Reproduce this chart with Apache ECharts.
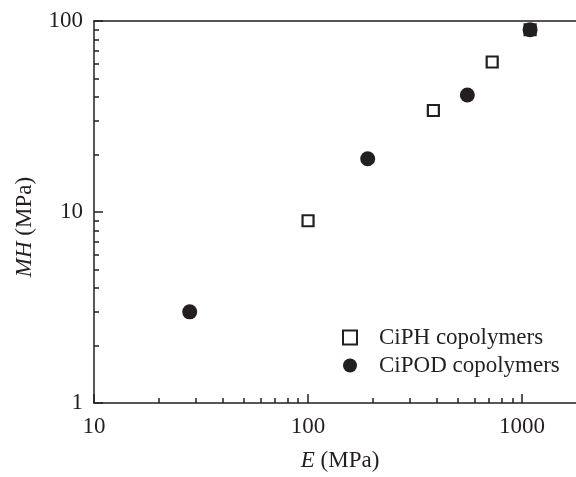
<!DOCTYPE html>
<html>
<head>
<meta charset="utf-8">
<script src="https://cdn.jsdelivr.net/npm/echarts@6/dist/echarts.min.js"></script>
<style>
  html, body { margin: 0; padding: 0; background: #fff; }
  #chart { width: 576px; height: 477px; }
</style>
</head>
<body>
<div id="chart"></div>
<script>
// Elastic modulus E (MPa) vs. microhardness MH (MPa)
const ciphE = [100, 385, 725, 1090];
const ciphMH = [9, 34, 61, 90];
const cipodE = [28, 190, 555, 1090];
const cipodMH = [3, 19, 41, 90];

const xMajorTicks = [10, 100, 1000];
const xMinorTicks = [20, 30, 40, 50, 60, 70, 80, 90, 200, 300, 400, 500, 600, 700, 800, 900];
const yMajorTicks = [1, 10, 100];
const yMinorTicks = [2, 3, 4, 5, 6, 7, 8, 9, 20, 30, 40, 50, 60, 70, 80, 90];

const ink = '#231f20';
const font = '"Liberation Serif", "Times New Roman", serif';
const fs = 23;

function pairs(xs, ys) { return xs.map((x, i) => [x, ys[i]]); }

const chart = echarts.init(document.getElementById('chart'));

// the x range runs a little past the right edge of the frame
const baseX = { type: 'log', logBase: 10, min: 10, max: 1786, gridIndex: 0, position: 'bottom', splitLine: { show: false } };
const baseY = { type: 'log', logBase: 10, min: 1, max: 100, gridIndex: 0, position: 'left', splitLine: { show: false } };

chart.setOption({
  animation: false,
  backgroundColor: '#fff',
  grid: { left: 94, top: 21, right: 0, bottom: 71, show: false },
  xAxis: [
    Object.assign({}, baseX, {
      name: '{i|E} (MPa)',
      nameLocation: 'middle',
      nameGap: 46,
      nameTextStyle: { fontFamily: font, fontSize: fs, color: ink, padding: [0, 0, 0, 10], rich: { i: { fontStyle: 'italic', fontFamily: font, fontSize: fs, color: ink } } },
      axisLine: { show: true, lineStyle: { color: ink, width: 1.5 } },
      axisTick: { show: true, inside: true, length: 9, lineStyle: { color: ink, width: 1.5 }, customValues: xMajorTicks },
      axisLabel: { show: true, margin: 12, fontFamily: font, fontSize: fs, color: ink, customValues: xMajorTicks, formatter: v => String(Math.round(v)) }
    }),
    Object.assign({}, baseX, {
      axisLine: { show: false },
      axisTick: { show: true, inside: true, length: 5, lineStyle: { color: ink, width: 1.5 }, customValues: xMinorTicks },
      axisLabel: { show: false }
    }),
    Object.assign({}, baseX, {
      position: 'top',
      axisLine: { show: true, lineStyle: { color: ink, width: 1.5 } },
      axisTick: { show: false },
      axisLabel: { show: false }
    })
  ],
  yAxis: [
    Object.assign({}, baseY, {
      name: '{i|MH} (MPa)',
      nameLocation: 'middle',
      nameGap: 58,
      nameRotate: 90,
      nameTextStyle: { fontFamily: font, fontSize: fs, color: ink, padding: [0, 30, 0, 0], rich: { i: { fontStyle: 'italic', fontFamily: font, fontSize: fs, color: ink } } },
      axisLine: { show: true, lineStyle: { color: ink, width: 1.5 } },
      axisTick: { show: true, inside: true, length: 9, lineStyle: { color: ink, width: 1.5 }, customValues: yMajorTicks },
      axisLabel: { show: true, margin: 11, fontFamily: font, fontSize: fs, color: ink, customValues: yMajorTicks, formatter: v => String(Math.round(v)) }
    }),
    Object.assign({}, baseY, {
      axisLine: { show: false },
      axisTick: { show: true, inside: true, length: 5, lineStyle: { color: ink, width: 1.5 }, customValues: yMinorTicks },
      axisLabel: { show: false }
    })
  ],
  legend: {
    orient: 'vertical',
    left: 337,
    top: 321,
    itemWidth: 14,
    itemHeight: 14,
    itemGap: 5,
    textStyle: { fontFamily: font, fontSize: fs, color: ink, padding: [0, 0, 0, 17] },
    data: ['CiPH copolymers', 'CiPOD copolymers']
  },
  series: [
    {
      name: 'CiPH copolymers',
      type: 'scatter',
      xAxisIndex: 0, yAxisIndex: 0,
      symbol: 'rect',
      symbolSize: 11,
      itemStyle: { color: '#fff', borderColor: ink, borderWidth: 2.2, opacity: 1 },
      data: pairs(ciphE, ciphMH)
    },
    {
      name: 'CiPOD copolymers',
      type: 'scatter',
      xAxisIndex: 0, yAxisIndex: 0,
      symbol: 'circle',
      symbolSize: 15,
      itemStyle: { color: ink, opacity: 1 },
      data: pairs(cipodE, cipodMH)
    }
  ]
});
</script>
</body>
</html>
